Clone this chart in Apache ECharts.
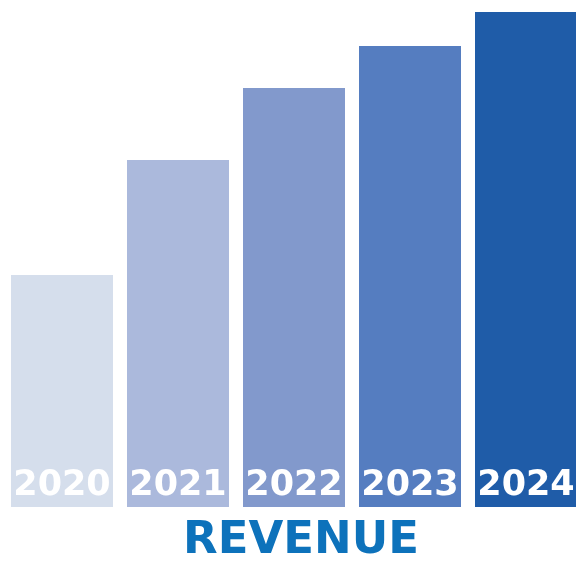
<!DOCTYPE html>
<html><head><meta charset="utf-8">
<script src="https://cdn.jsdelivr.net/npm/echarts@6/dist/echarts.min.js"></script>
<style>html,body{margin:0;padding:0;background:#fff}#c{width:576px;height:562px}</style>
</head><body><div id="c"></div>
<script>
const years = ['2020', '2021', '2022', '2023', '2024'];
const revenue = [232, 347, 419, 461, 495];
const barColors = ['#d5deec', '#abb9dc', '#8299cc', '#557dc0', '#1f5ca8'];
const titleText = 'REVENUE';

const chart = echarts.init(document.getElementById('c'));
chart.setOption({
  animation: false,
  grid: { left: 4, top: 0, width: 580, height: 507, outerBoundsMode: 'none', containLabel: false },
  xAxis: { type: 'category', data: years, show: false },
  yAxis: { type: 'value', min: 0, max: 507, show: false },
  series: [{
    type: 'bar',
    barWidth: 102,
    data: revenue.map((v, i) => ({ value: v, itemStyle: { color: barColors[i] } })),
    label: {
      show: true, position: 'insideBottom', distance: 4,
      formatter: p => years[p.dataIndex],
      color: '#fff', fontFamily: 'DejaVu Sans', fontWeight: 'bold', fontSize: 35
    }
  }],
  graphic: [{
    type: 'text', x: 301, y: 541,
    style: { text: titleText, fill: '#0d72bb', font: 'bold 45px "DejaVu Sans"', textAlign: 'center', textVerticalAlign: 'middle' }
  }]
});
</script></body></html>
